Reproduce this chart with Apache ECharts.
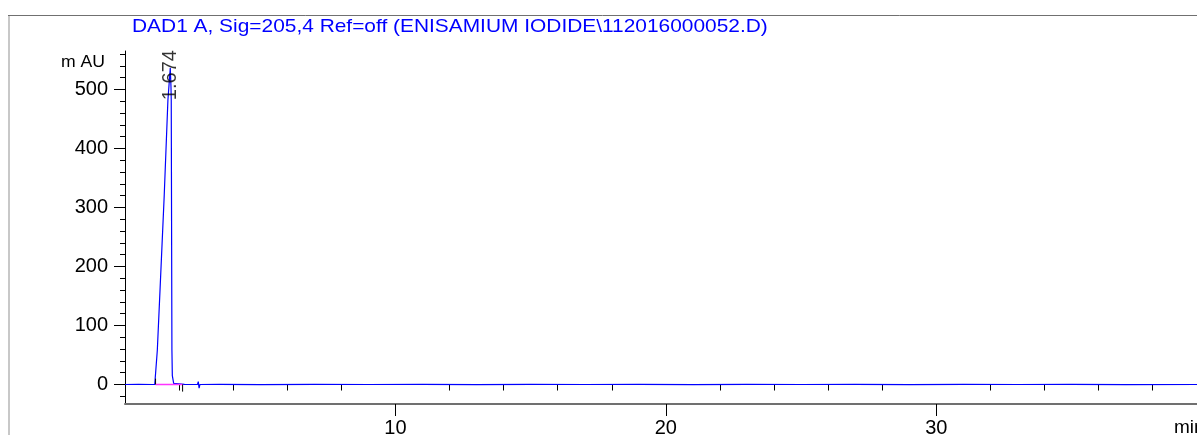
<!DOCTYPE html>
<html>
<head>
<meta charset="utf-8">
<title>DAD1 A chromatogram</title>
<script src="https://cdn.jsdelivr.net/npm/echarts@6/dist/echarts.min.js"></script>
<style>
  html, body { margin: 0; padding: 0; background: #fff; }
  #chart { width: 1197px; height: 435px; }
</style>
</head>
<body>
<div id="chart"></div>
<script>
// Detector trace: retention time (min) and absorbance (mAU)
const SIGNAL_TIME = [0, 0.5, 1.0, 1.10, 1.13, 1.195, 1.30, 1.45, 1.587, 1.674, 1.70, 1.71, 1.735, 1.75, 1.80, 1.85,
  2.2, 2.68, 2.71, 2.74, 2.77, 3.5, 5, 7, 9, 11, 13, 15, 17, 19, 21, 23, 25, 27, 29, 31, 33, 35, 37, 39.64];
const SIGNAL_MAU = [0, 0.2, 0, 0, 0.3, 58, 165, 320, 482, 536, 505, 482, 58, 15, 2, 0,
  0.3, 0, 5, -6, 0, 0.3, -0.2, 0.3, 0, 0.4, -0.2, 0.3, 0, 0.4, -0.2, 0.3, 0, 0.3, -0.2, 0.3, 0, 0.3, -0.2, 0];

// Integration baseline of the peak and its start/end markers
const BASE_TIME = [1.13, 2.13];
const BASE_MAU = [0, 0];
const START_MARK_MAU = [0, 10];
const END_MARK_MAU = [0, -12];

// Peak annotation (retention time)
const PEAK_TIME = [1.674];
const PEAK_MAU = [536];

// Axis ranges and ticks
const X_MIN = 0, X_MAX = 39.64;
const Y_MIN = -33, Y_MAX = 565;
const X_MAJOR = [10, 20, 30];
const X_MINOR = [2, 4, 6, 8, 12, 14, 16, 18, 22, 24, 26, 28, 32, 34, 36, 38];
const Y_MAJOR = [0, 100, 200, 300, 400, 500];
const Y_MINOR = [-20, 20, 40, 60, 80, 120, 140, 160, 180, 220, 240, 260, 280, 320, 340, 360, 380, 420, 440, 460, 480, 520, 540, 560];

const TITLE = 'DAD1 A, Sig=205,4 Ref=off (ENISAMIUM IODIDE\\112016000052.D)';
const Y_NAME = 'm AU';
const X_NAME = 'min';

const FONT = '"Liberation Sans", Arial, sans-serif';

const zip = (xs, ys) => xs.map((x, i) => [x, ys[i]]);

const chart = echarts.init(document.getElementById('chart'), null, { renderer: 'canvas' });

const axisCommonX = {
  type: 'value', min: X_MIN, max: X_MAX, position: 'bottom', splitLine: { show: false }
};
const axisCommonY = {
  type: 'value', min: Y_MIN, max: Y_MAX, position: 'left', splitLine: { show: false }
};

chart.setOption({
  animation: false,
  backgroundColor: '#fff',
  grid: { left: 125, right: 0, top: 51, bottom: 31, containLabel: false, outerBoundsMode: 'none' },
  xAxis: [
    Object.assign({}, axisCommonX, {
      axisLine: { show: true, onZero: false, lineStyle: { color: '#707070', width: 2 } },
      axisTick: { show: true, length: 12, customValues: X_MAJOR, lineStyle: { color: '#000', width: 1 } },
      axisLabel: { show: true, customValues: X_MAJOR, color: '#000', fontSize: 20, fontFamily: FONT, margin: 14 }
    }),
    Object.assign({}, axisCommonX, {
      axisLine: { show: false },
      axisTick: { show: true, length: 6, customValues: X_MINOR, lineStyle: { color: '#000', width: 1 } },
      axisLabel: { show: false }
    })
  ],
  yAxis: [
    Object.assign({}, axisCommonY, {
      axisLine: { show: true, onZero: false, lineStyle: { color: '#000', width: 1 } },
      axisTick: { show: true, length: 11, customValues: Y_MAJOR, lineStyle: { color: '#000', width: 1 } },
      axisLabel: { show: true, customValues: Y_MAJOR, color: '#000', fontSize: 20, fontFamily: FONT, margin: 17 }
    }),
    Object.assign({}, axisCommonY, {
      axisLine: { show: false },
      axisTick: { show: true, length: 5, customValues: Y_MINOR, lineStyle: { color: '#000', width: 1 } },
      axisLabel: { show: false }
    })
  ],
  graphic: [
    // outer frame: left and top edges
    { type: 'line', silent: true, shape: { x1: 9, y1: 15, x2: 9, y2: 435 }, style: { stroke: '#c8c8c8', lineWidth: 2 } },
    { type: 'line', silent: true, shape: { x1: 8, y1: 15.5, x2: 1197, y2: 15.5 }, style: { stroke: '#707070', lineWidth: 1 } },
    { type: 'text', silent: true, x: 132, y: 27, scaleX: 1.1,
      style: { text: TITLE, font: '19px ' + FONT, fill: '#0000ff', verticalAlign: 'middle', textAlign: 'left' } },
    { type: 'text', silent: true, x: 105, y: 62.5, scaleX: 1.1,
      style: { text: Y_NAME, font: '16px ' + FONT, fill: '#000', verticalAlign: 'middle', textAlign: 'right' } },
    { type: 'text', silent: true, x: 1174, y: 428,
      style: { text: X_NAME, font: '19px ' + FONT, fill: '#000', verticalAlign: 'middle', textAlign: 'left' } }
  ],
  series: [
    {
      name: 'signal', type: 'line', xAxisIndex: 0, yAxisIndex: 0,
      data: zip(SIGNAL_TIME, SIGNAL_MAU), symbol: 'none', silent: true, clip: true,
      lineStyle: { color: '#0000ff', width: 1.2 }, z: 2
    },
    {
      name: 'baseline', type: 'line', xAxisIndex: 0, yAxisIndex: 0,
      data: zip(BASE_TIME, BASE_MAU), symbol: 'none', silent: true,
      lineStyle: { color: '#ff33ff', width: 1.5 }, z: 3
    },
    {
      name: 'start', type: 'line', xAxisIndex: 0, yAxisIndex: 0,
      data: zip([BASE_TIME[0], BASE_TIME[0]], START_MARK_MAU), symbol: 'none', silent: true,
      lineStyle: { color: '#000', width: 1 }, z: 4
    },
    {
      name: 'end', type: 'line', xAxisIndex: 0, yAxisIndex: 0,
      data: zip([BASE_TIME[1], BASE_TIME[1]], END_MARK_MAU), symbol: 'none', silent: true,
      lineStyle: { color: '#000', width: 1 }, z: 4
    },
    {
      name: 'rt', type: 'scatter', xAxisIndex: 0, yAxisIndex: 0,
      data: zip(PEAK_TIME, PEAK_MAU), symbolSize: 0, silent: true, z: 5,
      label: {
        show: true, position: 'inside', rotate: 90, offset: [-7, 0],
        formatter: p => p.value[0].toFixed(3),
        color: '#000', fontSize: 20, fontFamily: FONT
      }
    }
  ]
});
</script>
</body>
</html>
